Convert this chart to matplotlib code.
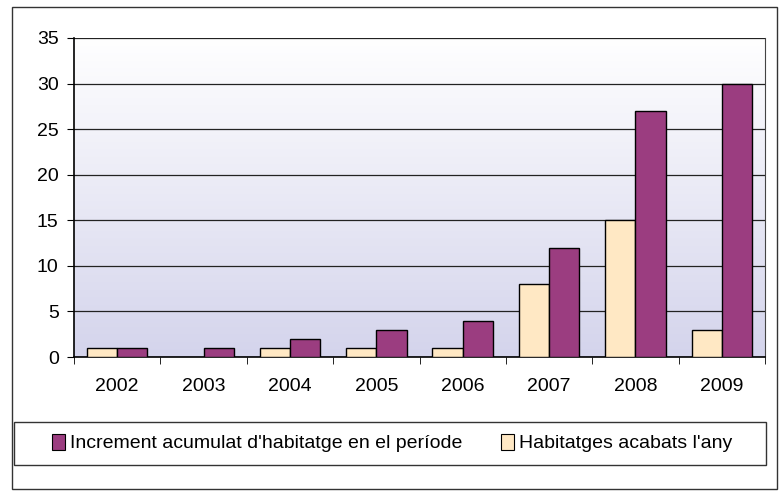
import numpy as np
import matplotlib
matplotlib.use("Agg")
import matplotlib.pyplot as plt
from matplotlib.patches import Rectangle, Patch
from matplotlib.colors import LinearSegmentedColormap

plt.rcParams["font.family"] = ["Liberation Sans", "DejaVu Sans"]

# dades
anys = ["2002", "2003", "2004", "2005", "2006", "2007", "2008", "2009"]
acabats = [1, 0, 1, 1, 1, 8, 15, 3]
increment = [1, 1, 2, 3, 4, 12, 27, 30]
yticks = [0, 5, 10, 15, 20, 25, 30, 35]

COL_INC = "#9b3d80"
COL_ACA = "#ffe8c4"

fig = plt.figure(figsize=(7.79, 4.91), dpi=100)
fig.patch.set_facecolor("white")
# marc exterior
fig.patches.append(Rectangle((12/779, 1 - 489/491), 765/779, 482/491, transform=fig.transFigure,
                             fill=False, edgecolor="#333333", linewidth=1.0))
# marc de la llegenda
fig.patches.append(Rectangle((14/779, 1 - 465/491), 752/779, 43/491, transform=fig.transFigure,
                             fill=False, edgecolor="#333333", linewidth=1.0))

ax = fig.add_axes([74/779, 1 - 357/491, (765 - 74)/779, (357 - 38)/491])
n = len(anys)
x = np.arange(n)
w = 0.35

# fons degradat (blanc a dalt, lila a baix)
grad = np.linspace(0, 1, 256).reshape(-1, 1)
cm = LinearSegmentedColormap.from_list("g", ["#ffffff", "#d4d4ec"])
ax.imshow(grad, cmap=cm, aspect="auto", extent=[-0.5, n - 0.5, 0, 35], origin="upper", zorder=0)

lw_a = [1.0 if v > 0 else 0 for v in acabats]
lw_i = [1.0 if v > 0 else 0 for v in increment]
ax.bar(x - w/2, acabats, w, color=COL_ACA, edgecolor="black", linewidth=lw_a, zorder=3)
ax.bar(x + w/2, increment, w, color=COL_INC, edgecolor="black", linewidth=lw_i, zorder=3)

ax.set_xlim(-0.5, n - 0.5)
ax.set_ylim(0, 35)
ax.set_yticks(yticks)
ax.yaxis.grid(True, color="#222222", linewidth=0.9, zorder=1)
ax.set_axisbelow(True)
ax.set_xticks(x)
ax.set_xticklabels(anys)
ax.set_xticks(np.arange(-0.5, n, 1), minor=True)
ax.tick_params(axis="x", which="major", length=0, pad=15, labelsize=14)
ax.tick_params(axis="x", which="minor", length=5, direction="out")
ax.tick_params(axis="y", length=5, direction="out", labelsize=14, pad=6)
ax.spines["top"].set_visible(False)
ax.spines["right"].set_color("#444444")
ax.spines["left"].set_linewidth(1.2)
ax.spines["bottom"].set_linewidth(1.2)

handles = [Patch(facecolor=COL_INC, edgecolor="black", linewidth=0.8),
           Patch(facecolor=COL_ACA, edgecolor="black", linewidth=0.8)]
labels = ["Increment acumulat d'habitatge en el període", "Habitatges acabats l'any"]
leg = fig.legend(handles, labels, loc="center", ncol=2,
                 bbox_to_anchor=(392/779, 1 - 443/491),
                 frameon=False, fontsize=14, handlelength=0.65, handleheight=0.9,
                 handletextpad=0.25, columnspacing=2.0, borderpad=0, borderaxespad=0)

fig.savefig("out.png", dpi=100)
